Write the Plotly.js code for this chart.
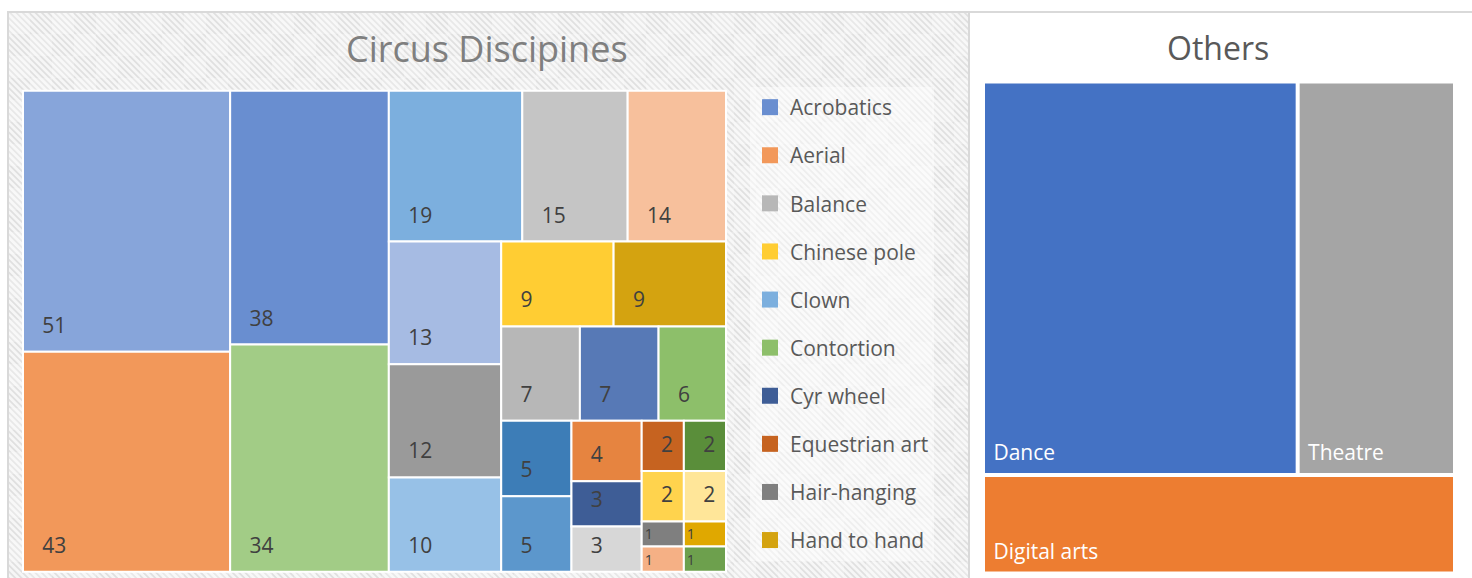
<!DOCTYPE html>
<html>
<head>
<meta charset="utf-8">
<script src="https://cdn.plot.ly/plotly-3.0.1.min.js"></script>
<style>
  html, body { margin: 0; padding: 0; background: #ffffff; }
  #chart { width: 1472px; height: 578px; }
</style>
</head>
<body>
<div id="chart"></div>
<script>
// ---------------- DATA ----------------
// Legend order of the reference (alphabetical). Only the first ten names are
// readable in the reference; the remaining ones are cut off, so they are
// kept as neutral placeholders.
const disciplines = [
  "Acrobatics", "Aerial", "Balance", "Chinese pole", "Clown",
  "Contortion", "Cyr wheel", "Equestrian art", "Hair-hanging", "Hand to hand",
  "Discipline 11", "Discipline 12", "Discipline 13", "Discipline 14", "Discipline 15",
  "Discipline 16", "Discipline 17", "Discipline 18", "Discipline 19", "Discipline 20",
  "Discipline 21", "Discipline 22", "Discipline 23", "Discipline 24", "Discipline 25",
  "Discipline 26", "Discipline 27", "Discipline 28"
];
const counts = [
  38, 43, 7, 9, 19,
  6, 3, 2, 1, 9,
  5, 2, 51, 1, 15,
  2, 10, 34, 7, 4,
  12, 1, 5, 1, 13,
  14, 3, 2
];
const legendShown = 10;   // entries visible in the reference legend

const others = ["Dance", "Theatre", "Digital arts"];
const otherCounts = [8, 4, 3];

const leftTitle = "Circus Discipines";
const rightTitle = "Others";

// ---------------- STYLE ----------------
const palette = [
  "#698ED0", "#F2985A", "#B7B7B7", "#FFCD33", "#7CAFDE",
  "#8DBF6A", "#3E5D96", "#C66320", "#7F7F7F", "#D4A310",
  "#3D7DB7", "#5A8E3A", "#87A5DA", "#F5B085", "#C5C5C5",
  "#FFD34D", "#97C1E7", "#A2CC86", "#5779B6", "#E68440",
  "#9A9A9A", "#E0A800", "#5C97CC", "#6DA04D", "#A6BBE3",
  "#F7C09C", "#D7D7D7", "#FFE699"
];
const otherPalette = ["#4472C4", "#A5A5A5", "#ED7D31"];

const W = 1472, H = 578;
const px = x => x / W;
const py = y => 1 - y / H;

const NB = "\u00A0";
const numTemplate = counts.map(v => v > 1
  ? '<span style="font-size:21px">' + NB + NB + NB + '%{value}</span><br>' + NB
  : '<span style="font-size:21px">%{value}</span>'
);

const hatchSvg =
  "<svg xmlns='http://www.w3.org/2000/svg' width='961' height='570'>" +
  "<defs>" +
  "<pattern id='h' width='4.5' height='4.5' patternUnits='userSpaceOnUse' patternTransform='rotate(-45)'>" +
  "<rect width='4.5' height='4.5' fill='#F6F6F6'/><rect width='1.8' height='4.5' fill='#E0E0E0'/></pattern>" +
  "<pattern id='c' width='44' height='44' patternUnits='userSpaceOnUse'>" +
  "<rect width='22' height='22' fill='#ffffff' fill-opacity='0.25'/><rect x='22' y='22' width='22' height='22' fill='#ffffff' fill-opacity='0.25'/></pattern>" +
  "</defs>" +
  "<rect width='961' height='570' fill='url(#h)'/><rect width='961' height='570' fill='url(#c)'/></svg>";

// ---------------- TRACES ----------------
const leftTrace = {
  type: "treemap",
  ids: disciplines,
  labels: disciplines,
  parents: disciplines.map(() => ""),
  values: counts,
  sort: true,
  domain: { x: [px(23), px(726)], y: [py(571.7), py(90.7)] },
  tiling: { packing: "squarify", squarifyratio: 1, pad: 0 },
  marker: {
    colors: palette,
    line: { color: "#FFFFFF", width: 2 },
    pad: { t: 0, l: 0, r: 0, b: 0 }
  },
  pathbar: { visible: false },
  textposition: "bottom left",
  texttemplate: numTemplate,
  textfont: { family: "Open Sans", size: 10, color: "#404040" },
  hoverinfo: "none"
};

const rightTrace = {
  type: "treemap",
  labels: others,
  parents: others.map(() => ""),
  values: otherCounts,
  sort: true,
  domain: { x: [px(985), px(1453)], y: [py(571.5), py(83.5)] },
  tiling: { packing: "squarify", squarifyratio: 1.618, pad: 4 },
  marker: {
    colors: otherPalette,
    line: { color: "#FFFFFF", width: 0 },
    pad: { t: 0, l: 0, r: 0, b: 0 }
  },
  pathbar: { visible: false },
  textposition: "bottom left",
  texttemplate: '<span style="font-size:21px">' + NB + '%{label}</span><br>' + NB,
  textfont: { family: "Open Sans", size: 6, color: "#FFFFFF" },
  hoverinfo: "none"
};

const legendTraces = disciplines.slice(0, legendShown).map((name, i) => ({
  type: "scatter",
  x: [null], y: [null],
  mode: "markers",
  name: name,
  legendgroup: name,
  showlegend: true,
  marker: { symbol: "square", size: 16, color: palette[i], line: { width: 0 } },
  hoverinfo: "skip"
}));

// ---------------- LAYOUT ----------------
const layout = {
  width: W, height: H,
  margin: { l: 0, r: 0, t: 0, b: 0 },
  paper_bgcolor: "#FFFFFF",
  plot_bgcolor: "rgba(0,0,0,0)",
  xaxis: { visible: false, domain: [0.5, 0.501], fixedrange: true },
  yaxis: { visible: false, domain: [0, 0.001], fixedrange: true },
  showlegend: true,
  legend: {
    x: px(750), xanchor: "left",
    y: py(87), yanchor: "top",
    font: { family: "Open Sans", size: 21, color: "#595959" },
    bgcolor: "rgba(255,255,255,0.45)",
    borderwidth: 0,
    traceorder: "grouped",
    tracegroupgap: 17.8,
    itemclick: false, itemdoubleclick: false
  },
  images: [{
    source: "data:image/svg+xml;charset=utf-8," + encodeURIComponent(hatchSvg),
    xref: "paper", yref: "paper",
    x: px(8), y: py(12),
    sizex: px(969) - px(8), sizey: py(12) - py(582),
    xanchor: "left", yanchor: "top",
    sizing: "stretch", layer: "below"
  }],
  shapes: [
    { type: "rect", xref: "paper", yref: "paper", x0: px(8), x1: px(969), y0: py(12), y1: py(600),
      line: { color: "#D9D9D9", width: 2 }, fillcolor: "rgba(0,0,0,0)", layer: "below" },
    { type: "rect", xref: "paper", yref: "paper", x0: px(969), x1: px(1490), y0: py(12), y1: py(600),
      line: { color: "#D9D9D9", width: 2 }, fillcolor: "#FFFFFF", layer: "below" }
  ],
  annotations: [
    { text: leftTitle, xref: "paper", yref: "paper", x: px(487), y: py(48.5),
      xanchor: "center", yanchor: "middle", showarrow: false,
      font: { family: "Open Sans", size: 36, color: "#7F7F7F" } },
    { text: rightTitle, xref: "paper", yref: "paper", x: px(1218), y: py(48),
      xanchor: "center", yanchor: "middle", showarrow: false,
      font: { family: "Open Sans", size: 32, color: "#595959" } }
  ]
};

Plotly.newPlot("chart", [leftTrace, rightTrace].concat(legendTraces), layout,
  { staticPlot: true, displayModeBar: false, responsive: false });
</script>
</body>
</html>
